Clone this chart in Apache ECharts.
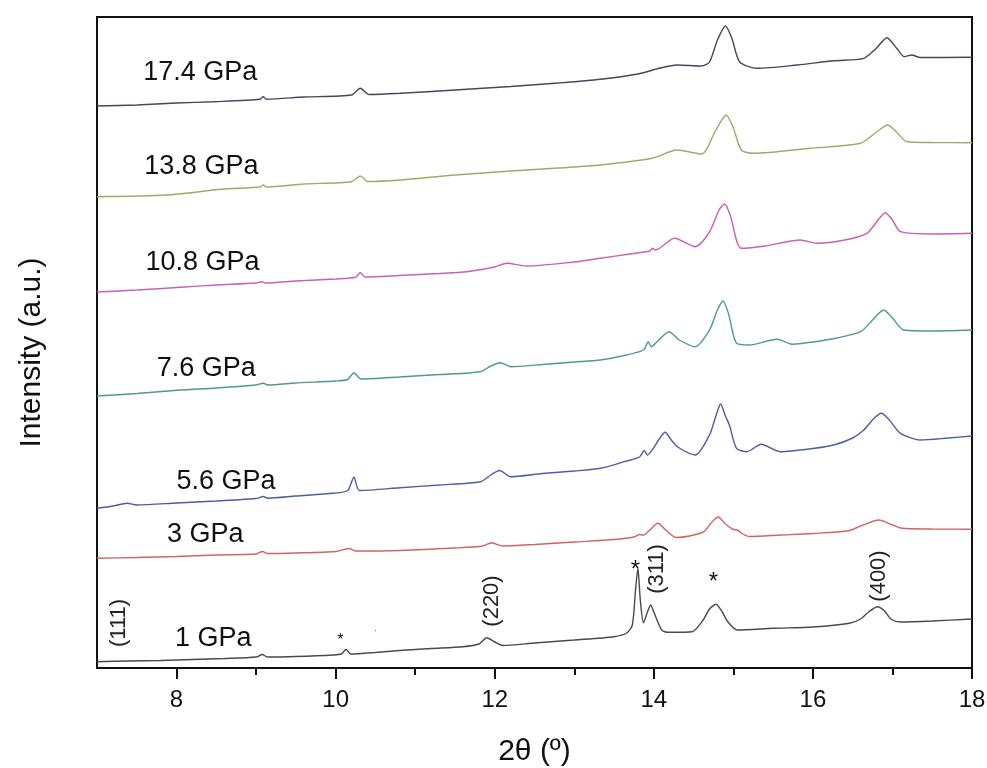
<!DOCTYPE html>
<html>
<head>
<meta charset="utf-8">
<script src="https://cdn.jsdelivr.net/npm/echarts@6/dist/echarts.min.js"></script>
<style>
  html, body { margin: 0; padding: 0; background: #ffffff; }
  #chart { width: 987px; height: 768px; }
</style>
</head>
<body>
<div id="chart"></div>
<script>
// ---- Data (2θ in degrees, intensity in arbitrary units, traces offset as in the figure) ----
const xMin = 7, xMax = 18;
const yMin = 0, yMax = 651;
const majorTicks = [8, 10, 12, 14, 16, 18];
const minorTicks = [9, 11, 13, 15, 17];

const twoTheta_1GPa = [7.0, 7.4, 7.8, 8.2, 8.6, 9.0, 9.08, 9.14, 9.5, 9.97, 10.07, 10.13, 10.19, 10.5, 10.8, 11.2, 11.6, 11.8, 11.9, 12.0, 12.1, 12.5, 13.0, 13.5, 13.66, 13.73, 13.77, 13.8, 13.83, 13.87, 13.92, 13.96, 14.0, 14.1, 14.2, 14.48, 14.62, 14.7, 14.78, 14.86, 14.93, 15.05, 15.5, 16.0, 16.46, 16.6, 16.7, 16.81, 16.9, 16.98, 17.1, 17.5, 18.0];
const intensity_1GPa = [6.3, 7, 7.5, 8.5, 9.5, 11, 13.5, 11, 11.5, 13, 14, 18.5, 14, 15.5, 17.5, 19.5, 21.3, 24, 30.3, 26, 22.5, 25, 28, 31.3, 35, 43, 78, 99.7, 68, 45.3, 56, 63, 56, 38, 35.7, 36.3, 48, 59, 63.7, 56, 46.3, 38, 39.7, 41, 44.7, 49, 56, 61.3, 57, 49, 46, 47, 49];

const twoTheta_3GPa = [7.0, 7.5, 8.0, 8.5, 9.0, 9.08, 9.14, 9.5, 10.0, 10.17, 10.25, 10.81, 11.5, 11.85, 11.96, 12.1, 12.5, 13.0, 13.5, 13.75, 13.82, 13.87, 13.95, 14.05, 14.15, 14.28, 14.45, 14.63, 14.72, 14.81, 14.9, 15.0, 15.05, 15.12, 15.2, 15.6, 16.0, 16.45, 16.6, 16.83, 17.0, 17.12, 17.5, 18.0];
const intensity_3GPa = [109.7, 110.5, 111.5, 113, 114, 116.5, 114.5, 115, 116.5, 119.5, 117, 117.5, 120, 122, 125.3, 122, 123.5, 126, 128.5, 131, 133.5, 133, 138, 144.7, 138, 130.5, 132, 136.3, 145, 151, 144, 138.5, 138, 134, 131.5, 133, 134.5, 137.3, 142, 148, 143, 139.7, 139, 138.7];

const twoTheta_5_6GPa = [7.0, 7.2, 7.38, 7.5, 8.0, 8.5, 8.72, 9.0, 9.09, 9.15, 9.5, 9.97, 10.15, 10.23, 10.3, 10.81, 11.3, 11.82, 11.95, 12.06, 12.2, 12.6, 13.0, 13.33, 13.63, 13.82, 13.88, 13.92, 13.98, 14.06, 14.14, 14.22, 14.3, 14.52, 14.7, 14.78, 14.84, 14.9, 14.95, 15.04, 15.17, 15.35, 15.59, 16.0, 16.26, 16.5, 16.64, 16.76, 16.86, 16.96, 17.1, 17.35, 17.7, 18.0];
const intensity_5_6GPa = [159.7, 162, 164.7, 163, 165, 167, 168, 169.5, 171.5, 169.8, 172, 174.7, 177.5, 190.7, 177.5, 180.3, 183, 186.3, 193, 197.5, 191.3, 194.5, 197, 199.7, 206.3, 211, 217.5, 213, 218, 228, 235.7, 228, 221, 213, 233, 252, 264, 252, 243, 219.7, 216.3, 223.7, 216.3, 219.5, 223, 230, 238, 249, 254.7, 248, 234.7, 228, 230, 232];

const twoTheta_7_6GPa = [7.0, 7.5, 8.05, 8.5, 9.0, 9.09, 9.15, 9.5, 10.0, 10.15, 10.23, 10.32, 10.8, 11.3, 11.82, 11.95, 12.07, 12.2, 12.6, 13.0, 13.33, 13.6, 13.87, 13.93, 13.97, 14.05, 14.19, 14.32, 14.52, 14.7, 14.8, 14.87, 14.94, 15.04, 15.2, 15.55, 15.75, 16.0, 16.3, 16.6, 16.75, 16.89, 17.0, 17.14, 17.5, 18.0];
const intensity_7_6GPa = [272, 274.5, 278, 280, 283, 284.7, 283, 285, 287, 288.5, 295.3, 289, 291, 293.5, 296.3, 302, 305.3, 301.3, 303.5, 306, 308, 312, 318, 326.3, 321.3, 327, 336.3, 328, 321.3, 338, 358, 367, 354, 324.7, 323, 328.7, 323.7, 326, 330, 336.3, 348, 358, 350, 338, 337, 338];

const twoTheta_10_8GPa = [7.0, 7.5, 8.05, 8.5, 9.0, 9.07, 9.12, 9.5, 10.0, 10.25, 10.31, 10.37, 10.8, 11.3, 11.65, 12.0, 12.15, 12.4, 13.0, 13.33, 13.7, 13.95, 13.98, 14.02, 14.26, 14.52, 14.7, 14.82, 14.89, 14.96, 15.1, 15.4, 15.84, 16.05, 16.4, 16.68, 16.8, 16.91, 17.0, 17.1, 17.5, 18.0];
const intensity_10_8GPa = [376, 378, 380.7, 383, 385, 386.3, 385, 387, 389, 390.7, 395.3, 391, 392.5, 394.5, 396.3, 401, 404.7, 402, 406, 409.7, 414, 417, 419.7, 418, 429.7, 421.3, 436, 458, 464, 453, 419.7, 422, 428, 424.7, 428, 434.7, 446, 455.3, 448, 436.3, 434, 434.7];

const twoTheta_13_8GPa = [7.0, 7.88, 8.57, 9.05, 9.09, 9.13, 9.6, 10.2, 10.31, 10.4, 10.81, 11.5, 12.2, 12.8, 13.33, 13.98, 14.29, 14.6, 14.78, 14.91, 15.0, 15.1, 15.25, 15.97, 16.6, 16.8, 16.94, 17.05, 17.18, 17.5, 18.0];
const intensity_13_8GPa = [471.3, 473, 478.7, 481, 483, 481, 484, 486.3, 492, 486.5, 488, 493, 497, 500, 503, 509.7, 518, 514, 538, 553, 540, 518, 514.7, 519.7, 524.7, 536, 543, 536, 526.3, 525.5, 525.3];

const twoTheta_17_4GPa = [7.0, 7.5, 8.0, 8.47, 9.05, 9.09, 9.13, 9.6, 10.2, 10.31, 10.42, 10.81, 11.5, 12.2, 12.8, 13.33, 13.8, 14.07, 14.29, 14.6, 14.7, 14.8, 14.9, 14.98, 15.08, 15.3, 15.8, 16.26, 16.64, 16.8, 16.93, 17.05, 17.15, 17.24, 17.35, 18.0];
const intensity_17_4GPa = [562, 563, 565, 566.3, 568.7, 571.3, 568.7, 571, 573, 579.7, 573.5, 574.7, 578, 581.5, 585, 588.7, 594, 599.7, 603, 602, 606, 628, 642, 630, 606, 599.7, 603, 607.3, 609.7, 620, 630.3, 620, 611.3, 613, 610.5, 610.7];

const seriesNames = ['1 GPa', '3 GPa', '5.6 GPa', '7.6 GPa', '10.8 GPa', '13.8 GPa', '17.4 GPa'];
const seriesX = [twoTheta_1GPa, twoTheta_3GPa, twoTheta_5_6GPa, twoTheta_7_6GPa, twoTheta_10_8GPa, twoTheta_13_8GPa, twoTheta_17_4GPa];
const seriesY = [intensity_1GPa, intensity_3GPa, intensity_5_6GPa, intensity_7_6GPa, intensity_10_8GPa, intensity_13_8GPa, intensity_17_4GPa];

// Trace labels (anchor: left edge, vertical middle) in data coordinates
const traceLabelText = ['17.4 GPa', '13.8 GPa', '10.8 GPa', '7.6 GPa', '5.6 GPa', '3 GPa', '1 GPa'];
const traceLabelX = [7.58, 7.595, 7.61, 7.75, 8.0, 7.88, 7.98];
const traceLabelY = [595, 501.3, 405, 299.7, 186.3, 133, 29.7];

// Reflection indices (rotated) and asterisks, in data coordinates
const hklText = ['(111)', '(220)', '(311)', '(400)'];
const hklX = [7.28, 11.97, 14.04, 16.83];
const hklY = [45, 67, 99, 92];
const starX = [10.06, 13.77, 14.75];
const starY = [31, 103, 91];
const starSize = [16, 24, 24];
const dotX = [10.5];
const dotY = [37];

// ---- Styling ----
const colors = ['#4a4a4a', '#cf6464', '#4b5ea3', '#4f9a8d', '#c760b6', '#a6a66c', '#46465e'];
const FONT = '"Liberation Sans", Arial, sans-serif';

const chart = echarts.init(document.getElementById('chart'), null, { renderer: 'canvas' });

const series = seriesNames.map((name, i) => ({
  name: name,
  type: 'line',
  xAxisIndex: 0,
  yAxisIndex: 0,
  data: seriesX[i].map((x, j) => [x, seriesY[i][j]]),
  showSymbol: false,
  smooth: 0.25,
  lineStyle: { color: colors[i], width: 1.4 },
  itemStyle: { color: colors[i] },
  animation: false,
  z: 3
}));

chart.setOption({
  backgroundColor: '#ffffff',
  animation: false,
  grid: {
    left: 97, right: 15, top: 17, bottom: 100,
    containLabel: false, outerBoundsMode: 'none',
    show: true, borderColor: '#111111', borderWidth: 2, backgroundColor: 'transparent'
  },
  xAxis: [{
    type: 'value', min: xMin, max: xMax, position: 'bottom',
    name: '2θ (º)', nameLocation: 'middle', nameGap: 69,
    nameTextStyle: { fontSize: 30, color: '#111', fontFamily: FONT },
    axisLine: { show: true, onZero: false, lineStyle: { color: '#111', width: 2 } },
    axisTick: { show: true, inside: false, length: 11, customValues: majorTicks, lineStyle: { color: '#111', width: 2 } },
    axisLabel: { show: true, customValues: majorTicks, fontSize: 24, color: '#111', fontFamily: FONT, margin: 20 },
    splitLine: { show: false }
  }, {
    type: 'value', min: xMin, max: xMax, position: 'bottom', gridIndex: 0,
    axisLine: { show: false },
    axisTick: { show: true, inside: false, length: 7, customValues: minorTicks, lineStyle: { color: '#111', width: 2 } },
    axisLabel: { show: false },
    splitLine: { show: false }
  }],
  yAxis: [{
    type: 'value', min: yMin, max: yMax,
    name: 'Intensity (a.u.)', nameLocation: 'middle', nameGap: 50, nameRotate: 90,
    nameTextStyle: { fontSize: 30, color: '#111', fontFamily: FONT, padding: [0, 20, 0, 0] },
    axisLine: { show: true, lineStyle: { color: '#111', width: 2 } },
    axisTick: { show: false },
    axisLabel: { show: false },
    splitLine: { show: false }
  }],
  series: series
});

function buildGraphics() {
  const g = [];
  traceLabelText.forEach((t, i) => {
    const p = chart.convertToPixel({ xAxisIndex: 0, yAxisIndex: 0 }, [traceLabelX[i], traceLabelY[i]]);
    g.push({ type: 'text', x: p[0], y: p[1], z: 10,
      style: { text: t, fontSize: 27, fontFamily: FONT, fill: '#111', textAlign: 'left', textVerticalAlign: 'middle' } });
  });
  hklText.forEach((t, i) => {
    const p = chart.convertToPixel({ xAxisIndex: 0, yAxisIndex: 0 }, [hklX[i], hklY[i]]);
    g.push({ type: 'text', x: p[0], y: p[1], rotation: Math.PI / 2, z: 10,
      style: { text: t, fontSize: 22, fontFamily: FONT, fill: '#222', textAlign: 'center', textVerticalAlign: 'middle' } });
  });
  starX.forEach((sx, i) => {
    const p = chart.convertToPixel({ xAxisIndex: 0, yAxisIndex: 0 }, [sx, starY[i]]);
    g.push({ type: 'text', x: p[0], y: p[1] + starSize[i] * 0.22, z: 10,
      style: { text: '*', fontSize: starSize[i], fontFamily: FONT, fill: '#111', textAlign: 'center', textVerticalAlign: 'middle' } });
  });
  dotX.forEach((dx, i) => {
    const p = chart.convertToPixel({ xAxisIndex: 0, yAxisIndex: 0 }, [dx, dotY[i]]);
    g.push({ type: 'text', x: p[0], y: p[1], z: 10,
      style: { text: '·', fontSize: 12, fontFamily: FONT, fill: '#888', textAlign: 'center', textVerticalAlign: 'middle' } });
  });
  chart.setOption({ graphic: g });
}
buildGraphics();
</script>
</body>
</html>
